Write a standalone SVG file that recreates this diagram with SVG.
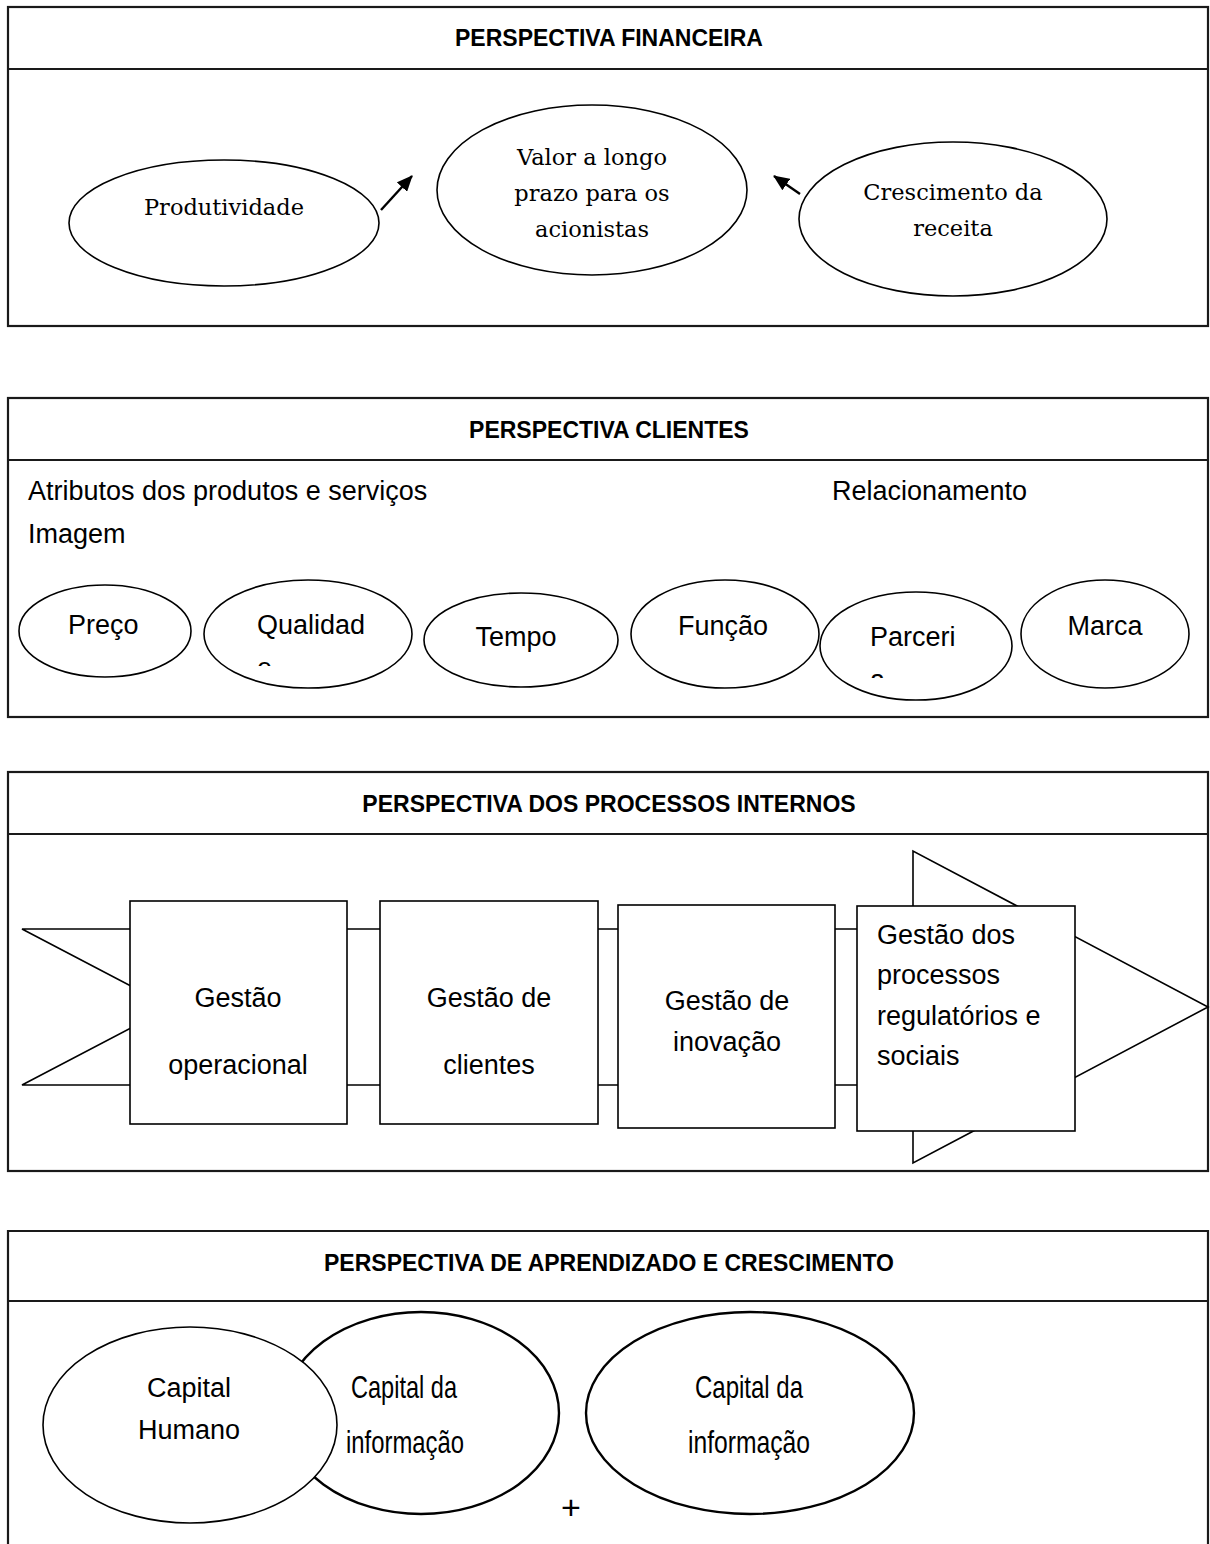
<svg xmlns="http://www.w3.org/2000/svg" width="1210" height="1544" viewBox="0 0 1210 1544">
  <style>
    .frame { fill: none; stroke: #1a1a1a; stroke-width: 2.2; }
    .rule { stroke: #1a1a1a; stroke-width: 2.2; }
    .oval { fill: #fff; stroke: #000; stroke-width: 1.6; }
    .oval-thick { fill: #fff; stroke: #000; stroke-width: 2.4; }
    .box { fill: #fff; stroke: #000; stroke-width: 1.6; }
    .title { font-family: "Liberation Sans", Arial, sans-serif; font-weight: bold; font-size: 23px; fill: #000; text-anchor: middle; }
    .serif { font-family: "DejaVu Serif", "Liberation Serif", serif; font-size: 22.5px; fill: #000; text-anchor: middle; }
    .sans { font-family: "Liberation Sans", Arial, sans-serif; font-size: 27px; fill: #000; }
    .mid { text-anchor: middle; }
    .plus { font-size: 34px; }
    .cond { font-family: "Liberation Sans", Arial, sans-serif; font-size: 32px; fill: #000; text-anchor: middle; }
    .link { stroke: #000; stroke-width: 2.4; fill: none; }
  </style>
  <defs>
    <marker id="head" markerUnits="userSpaceOnUse" markerWidth="16" markerHeight="14" refX="15" refY="7" orient="auto">
      <path d="M0,0 L16,7 L0,14 z" fill="#000"/>
    </marker>
    <clipPath id="cut-qualidade"><rect x="240" y="640" width="60" height="26"/></clipPath>
    <clipPath id="cut-parceria"><rect x="855" y="655" width="60" height="23"/></clipPath>
  </defs>

  <rect width="1210" height="1544" fill="#fff"/>

  <!-- Financial perspective -->
  <g id="financeira">
    <rect class="frame" x="8" y="7" width="1200" height="319"/>
    <line class="rule" x1="8" y1="69" x2="1208" y2="69"/>
    <text class="title" x="609" y="46">PERSPECTIVA FINANCEIRA</text>
  </g>
  <g id="produtividade">
    <ellipse class="oval" cx="224" cy="223" rx="155" ry="63"/>
    <text class="serif" x="224" y="215">Produtividade</text>
  </g>
  <g id="valor">
    <ellipse class="oval" cx="592" cy="190" rx="155" ry="85"/>
    <text class="serif" x="592" y="165">Valor a longo</text>
    <text class="serif" x="592" y="201">prazo para os</text>
    <text class="serif" x="592" y="237">acionistas</text>
  </g>
  <g id="crescimento">
    <ellipse class="oval" cx="953" cy="219" rx="154" ry="77"/>
    <text class="serif" x="953" y="200">Crescimento da</text>
    <text class="serif" x="953" y="236">receita</text>
  </g>

  <!-- Customer perspective -->
  <g id="clientes">
    <rect class="frame" x="8" y="398" width="1200" height="319"/>
    <line class="rule" x1="8" y1="460" x2="1208" y2="460"/>
    <text class="title" x="609" y="438">PERSPECTIVA CLIENTES</text>
    <text class="sans" x="28" y="500">Atributos dos produtos e serviços</text>
    <text class="sans" x="832" y="500">Relacionamento</text>
    <text class="sans" x="28" y="543">Imagem</text>
  </g>
  <g id="preco">
    <ellipse class="oval" cx="105" cy="631" rx="86" ry="46"/>
    <text class="sans" x="68" y="634">Preço</text>
  </g>
  <g id="qualidade">
    <ellipse class="oval" cx="308" cy="634" rx="104" ry="54"/>
    <text class="sans" x="257" y="634">Qualidad</text>
    <text class="sans" x="257" y="677" clip-path="url(#cut-qualidade)">e</text>
  </g>
  <g id="tempo">
    <ellipse class="oval" cx="521" cy="640" rx="97" ry="47"/>
    <text class="sans mid" x="516" y="646">Tempo</text>
  </g>
  <g id="funcao">
    <ellipse class="oval" cx="725" cy="634" rx="94" ry="54"/>
    <text class="sans mid" x="723" y="635">Função</text>
  </g>
  <g id="parceria">
    <ellipse class="oval" cx="916" cy="646" rx="96" ry="54"/>
    <text class="sans" x="870" y="646">Parceri</text>
    <text class="sans" x="870" y="689" clip-path="url(#cut-parceria)">a</text>
  </g>
  <g id="marca">
    <ellipse class="oval" cx="1105" cy="634" rx="84" ry="54"/>
    <text class="sans mid" x="1105" y="635">Marca</text>
  </g>

  <!-- Internal process perspective -->
  <g id="processos">
    <rect class="frame" x="8" y="772" width="1200" height="399"/>
    <line class="rule" x1="8" y1="834" x2="1208" y2="834"/>
    <text class="title" x="609" y="812">PERSPECTIVA DOS PROCESSOS INTERNOS</text>
    <polygon class="box" points="22,929 913,929 913,851 1208,1007 913,1163 913,1085 22,1085 171,1007"/>
  </g>
  <g id="gestao-operacional">
    <rect class="box" x="130" y="901" width="217" height="223"/>
    <text class="sans mid" x="238" y="1007">Gestão</text>
    <text class="sans mid" x="238" y="1074">operacional</text>
  </g>
  <g id="gestao-clientes">
    <rect class="box" x="380" y="901" width="218" height="223"/>
    <text class="sans mid" x="489" y="1007">Gestão de</text>
    <text class="sans mid" x="489" y="1074">clientes</text>
  </g>
  <g id="gestao-inovacao">
    <rect class="box" x="618" y="905" width="217" height="223"/>
    <text class="sans mid" x="727" y="1010">Gestão de</text>
    <text class="sans mid" x="727" y="1051">inovação</text>
  </g>
  <g id="gestao-regulatorios">
    <rect class="box" x="857" y="906" width="218" height="225"/>
    <text class="sans" x="877" y="944">Gestão dos</text>
    <text class="sans" x="877" y="984">processos</text>
    <text class="sans" x="877" y="1025">regulatórios e</text>
    <text class="sans" x="877" y="1065">sociais</text>
  </g>

  <!-- Learning and growth perspective -->
  <g id="aprendizado">
    <path class="frame" d="M8,1560 V1231 H1208 V1560"/>
    <line class="rule" x1="8" y1="1301" x2="1208" y2="1301"/>
    <text class="title" x="609" y="1271">PERSPECTIVA DE APRENDIZADO E CRESCIMENTO</text>
    <text class="sans mid plus" x="571" y="1519">+</text>
  </g>
  <g id="capital-informacao-1">
    <ellipse class="oval-thick" cx="421" cy="1413" rx="138" ry="101"/>
    <text class="cond" x="404" y="1398" textLength="106" lengthAdjust="spacingAndGlyphs">Capital da</text>
    <text class="cond" x="405" y="1453" textLength="118" lengthAdjust="spacingAndGlyphs">informação</text>
  </g>
  <g id="capital-humano">
    <ellipse class="oval" cx="190" cy="1425" rx="147" ry="98"/>
    <text class="sans mid" x="189" y="1397">Capital</text>
    <text class="sans mid" x="189" y="1439">Humano</text>
  </g>
  <g id="capital-informacao-2">
    <ellipse class="oval-thick" cx="750" cy="1413" rx="164" ry="101"/>
    <text class="cond" x="749" y="1398" textLength="108" lengthAdjust="spacingAndGlyphs">Capital da</text>
    <text class="cond" x="749" y="1453" textLength="122" lengthAdjust="spacingAndGlyphs">informação</text>
  </g>

  <!-- Connectors -->
  <g id="connectors">
    <line class="link" x1="381" y1="210" x2="412" y2="176" marker-end="url(#head)"/>
    <line class="link" x1="800" y1="194" x2="774" y2="176" marker-end="url(#head)"/>
  </g>
</svg>
